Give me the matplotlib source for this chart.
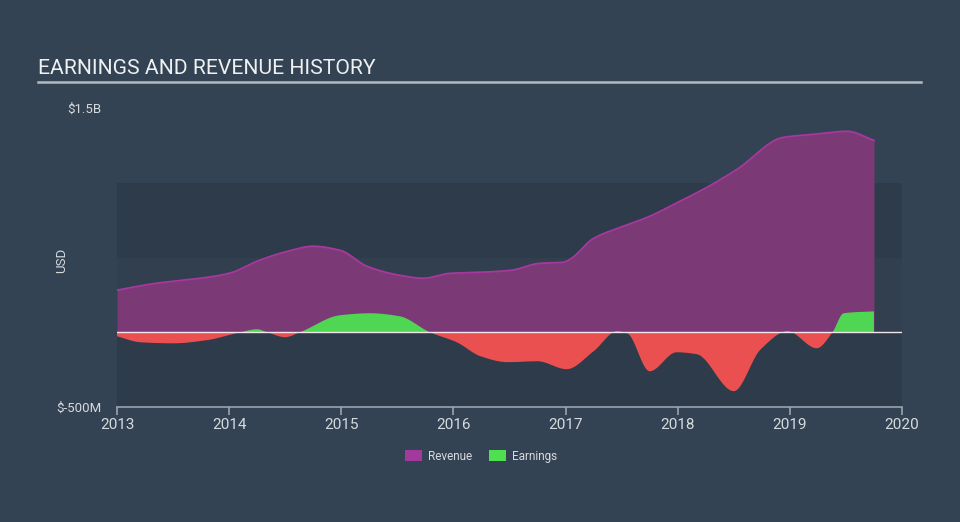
import numpy as np
import matplotlib
matplotlib.use("Agg")
import matplotlib.pyplot as plt
from matplotlib.patches import Patch

plt.rcParams['font.family'] = ['Roboto', 'DejaVu Sans']

# ---- data (values in $M) ----
rev_t = [2013.0, 2013.29, 2013.92, 2014.03, 2014.25, 2014.52, 2014.75, 2014.99,
         2015.23, 2015.52, 2015.73, 2015.97, 2016.24, 2016.51, 2016.77, 2016.98,
         2017.04, 2017.25, 2017.49, 2017.73, 2018.02, 2018.26, 2018.53, 2018.94,
         2019.21, 2019.51, 2019.75]
rev_v = [281, 321, 381, 401, 475, 541, 575, 548,
         441, 381, 361, 394, 401, 414, 461, 468,
         488, 628, 702, 769, 876, 969, 1090, 1303,
         1324, 1344, 1283]

earn_t = [2013.0, 2013.21, 2013.5, 2013.8, 2014.03, 2014.1, 2014.25, 2014.34,
          2014.5, 2014.63, 2014.99, 2015.26, 2015.52, 2015.79, 2016.03, 2016.24,
          2016.48, 2016.75, 2017.01, 2017.25, 2017.46, 2017.55, 2017.75, 2017.99,
          2018.17, 2018.5, 2018.74, 2018.98, 2019.24, 2019.38, 2019.48, 2019.75]
earn_v = [-27, -67, -74, -53, -13, 0, 20, 0,
          -33, 0, 114, 127, 107, 0, -67, -160,
          -200, -194, -247, -127, 7, -7, -261, -134,
          -147, -394, -114, 7, -107, 0, 127, 140]

x_ticks = [2013, 2014, 2015, 2016, 2017, 2018, 2019, 2020]
y_ticks = [-500, 1500]
y_tick_labels = ['$-500M', '$1.5B']
series_names = ['Revenue', 'Earnings']


def smooth(t, v, n=1500):
    """Monotone cubic Hermite curve through the read points (for drawing)."""
    t = np.asarray(t, float)
    v = np.asarray(v, float)
    h = np.diff(t)
    d = np.diff(v) / h
    m = np.zeros_like(v)
    m[0], m[-1] = d[0], d[-1]
    for i in range(1, len(v) - 1):
        if d[i - 1] * d[i] <= 0:
            m[i] = 0
        else:
            w1 = 2 * h[i] + h[i - 1]
            w2 = h[i] + 2 * h[i - 1]
            m[i] = (w1 + w2) / (w1 / d[i - 1] + w2 / d[i])
    ts = np.linspace(t[0], t[-1], n)
    idx = np.clip(np.searchsorted(t, ts) - 1, 0, len(t) - 2)
    hh = h[idx]
    s = (ts - t[idx]) / hh
    h00 = 2 * s**3 - 3 * s**2 + 1
    h10 = s**3 - 2 * s**2 + s
    h01 = -2 * s**3 + 3 * s**2
    h11 = s**3 - s**2
    vs = h00 * v[idx] + h10 * hh * m[idx] + h01 * v[idx + 1] + h11 * hh * m[idx + 1]
    return ts, vs


BG = '#344353'
BAND = '#2e3b4a'
TXT = '#d6dade'

fig = plt.figure(figsize=(9.6, 5.22), dpi=100, facecolor=BG)
ax = fig.add_axes([117 / 960, 1 - 407 / 522, (902 - 117) / 960, (407 - 108) / 522])
ax.set_facecolor(BG)

ax.axhspan(-500, 0, color=BAND, lw=0, zorder=0)
ax.axhspan(0, 500, color='#313f4f', lw=0, zorder=0)
ax.axhspan(500, 1000, color=BAND, lw=0, zorder=0)

rt, rv = smooth(rev_t, rev_v)
ax.fill_between(rt, 0, rv, color='#7b3a75', lw=0, zorder=1)
ax.plot(rt, rv, color='#a8389f', lw=1.3, zorder=2)

et, ev = smooth(earn_t, earn_v)
ax.fill_between(et, 0, ev, where=ev >= 0, interpolate=True, color='#4fd652', lw=0, zorder=3)
ax.fill_between(et, 0, ev, where=ev <= 0, interpolate=True, color='#ea5050', lw=0, zorder=3)

ax.axhline(0, color='#f2e6ea', lw=1.0, zorder=4)

ax.set_xlim(2013, 2020)
ax.set_ylim(-500, 1500)
for s in ['top', 'right', 'left']:
    ax.spines[s].set_visible(False)
ax.spines['bottom'].set_color('#9aa4ae')
ax.spines['bottom'].set_linewidth(1.2)

ax.set_xticks(x_ticks)
ax.set_xticklabels([str(x) for x in x_ticks])
ax.tick_params(axis='x', colors='#9aa4ae', labelcolor=TXT, length=6, width=1.2,
               labelsize=11, pad=2)
ax.set_yticks(y_ticks)
ax.set_yticklabels(y_tick_labels)
ax.tick_params(axis='y', length=0, labelcolor=TXT, labelsize=9.5, pad=11)
fig.text(62 / 960, 1 - 260 / 522, 'USD', color=TXT, fontsize=9.5, rotation=90,
         ha='center', va='center')

fig.text(38 / 960, 1 - 69 / 522, 'EARNINGS AND REVENUE HISTORY', color='#eef0f2',
         fontsize=15.2, va='center', ha='left')
fig.add_artist(plt.Line2D([38 / 960, 921 / 960], [1 - 82 / 522, 1 - 82 / 522],
                          color='#b4b9be', lw=1.8))

handles = [Patch(facecolor='#a2399c', edgecolor='none', label=series_names[0]),
           Patch(facecolor='#4fe04f', edgecolor='none', label=series_names[1])]
fig.legend(handles=handles, loc='center', bbox_to_anchor=(481 / 960, 1 - 456 / 522),
           ncol=2, frameon=False, fontsize=8.5, labelcolor=TXT, handlelength=1.5,
           handleheight=1.1, handletextpad=0.5, columnspacing=1.4)

fig.savefig('out.png', dpi=100, facecolor=BG)
